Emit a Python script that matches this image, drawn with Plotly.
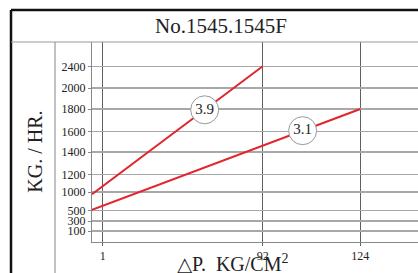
import numpy as np
import plotly.graph_objects as go

# ---- data ----
title_text = "No.1545.1545F"
y_title = "KG. / HR."
x_title = "△P.  KG/CM<sup>2</sup>"

x_tick_values = [1, 92, 124]
y_tick_values = [100, 300, 500, 1000, 1200, 1400, 1600, 1800, 2000, 2400]

line_names = ["3.9", "3.1"]
line_39_x = [0, 92]
line_39_y = [940, 2400]
line_31_x = [0, 124]
line_31_y = [520, 1800]
label_frac = [0.66, 0.785]   # where the circled label sits along each line

# ---- axis scales (chart uses non-uniform spacing) ----
W, H = 418, 273
L, T, B = 92, 42, 31
PW, PH = W - L, H - T - B
x_anchor_vals = [0, 1, 92, 124]
x_anchor_pos = [0, 10.7, 170.7, 268.3]
y_anchor_vals = [0, 100, 300, 500, 1000, 1200, 1400, 1600, 1800, 2000, 2400]
y_anchor_pos = [0, 11, 21, 31.4, 50, 67.7, 90, 110.7, 133, 154, 175.7]

def sx(v):
    return np.interp(v, x_anchor_vals, x_anchor_pos)

def sy(v):
    return np.interp(v, y_anchor_vals, y_anchor_pos)

def px(xp):
    return (xp - L) / PW

def py(yp):
    return (H - B - yp) / PH

serif = "Liberation Serif, Times New Roman, serif"
red = "#e3242b"

fig = go.Figure()
series = [(line_39_x, line_39_y), (line_31_x, line_31_y)]
for (xs, ys) in series:
    fig.add_trace(go.Scatter(x=sx(xs), y=sy(ys), mode="lines",
                             line=dict(color=red, width=2), showlegend=False,
                             hoverinfo="skip"))
for (xs, ys), name, f in zip(series, line_names, label_frac):
    X = sx(xs); Y = sy(ys)
    cx = X[0] + f * (X[1] - X[0]); cy = Y[0] + f * (Y[1] - Y[0])
    fig.add_trace(go.Scatter(x=[cx], y=[cy], mode="markers+text", text=[name],
                             textposition="middle center",
                             textfont=dict(family=serif, size=15, color="#222"),
                             marker=dict(size=28, color="white",
                                         line=dict(color="#999", width=1)),
                             showlegend=False, cliponaxis=False, hoverinfo="skip"))

fig.update_xaxes(range=[0, PW], tickvals=sx(x_tick_values),
                 ticktext=[str(v) for v in x_tick_values],
                 showgrid=True, gridcolor="#606060", gridwidth=1,
                 showline=True, linecolor="#888", linewidth=1,
                 ticks="outside", ticklen=3, tickcolor="#606060",
                 zeroline=False, tickfont=dict(family=serif, size=12, color="#222"))
fig.update_yaxes(range=[0, PH], tickvals=sy(y_tick_values),
                 ticktext=[str(v) for v in y_tick_values],
                 showgrid=True, gridcolor="#a8a8a8", gridwidth=1.5,
                 showline=True, linecolor="#888", linewidth=1,
                 ticks="outside", ticklen=3, tickcolor="#888",
                 zeroline=False, tickfont=dict(family=serif, size=12, color="#222"))

shapes = [
    dict(type="line", xref="paper", yref="paper", x0=px(11), x1=px(W), y0=py(10), y1=py(10),
         line=dict(color="#111", width=2.5)),
    dict(type="line", xref="paper", yref="paper", x0=px(11), x1=px(11), y0=py(10), y1=py(H),
         line=dict(color="#111", width=2.5)),
    dict(type="line", xref="paper", yref="paper", x0=px(11), x1=px(W), y0=py(42), y1=py(42),
         line=dict(color="#999", width=1.2)),
    dict(type="line", xref="paper", yref="paper", x0=px(55), x1=px(55), y0=py(42), y1=py(H),
         line=dict(color="#999", width=1.2)),
]
annotations = [
    dict(text=title_text, xref="paper", yref="paper", x=px(221), y=py(26),
         xanchor="center", yanchor="middle", showarrow=False,
         font=dict(family=serif, size=21, color="#222")),
    dict(text=y_title, xref="paper", yref="paper", x=px(35), y=py(151.7),
         xanchor="center", yanchor="middle", showarrow=False, textangle=-90,
         font=dict(family=serif, size=20, color="#222")),
    dict(text=x_title, xref="paper", yref="paper", x=px(232), y=py(249),
         xanchor="center", yanchor="top", showarrow=False,
         font=dict(family=serif, size=20, color="#222")),
]

fig.update_layout(width=W, height=H, margin=dict(l=L, r=0, t=T, b=B, pad=0),
                  paper_bgcolor="white", plot_bgcolor="white",
                  shapes=shapes, annotations=annotations, showlegend=False,
                  hovermode=False)
fig.write_html("out.html", config={"displayModeBar": False, "staticPlot": True},
               post_script="var d=document.getElementById('{plot_id}');"
                           "d.style.position='fixed';d.style.left='0px';d.style.top='0px';"
                           "document.documentElement.style.overflow='hidden';"
                           "document.body.style.overflow='hidden';"
                           "document.body.style.margin='0';")
